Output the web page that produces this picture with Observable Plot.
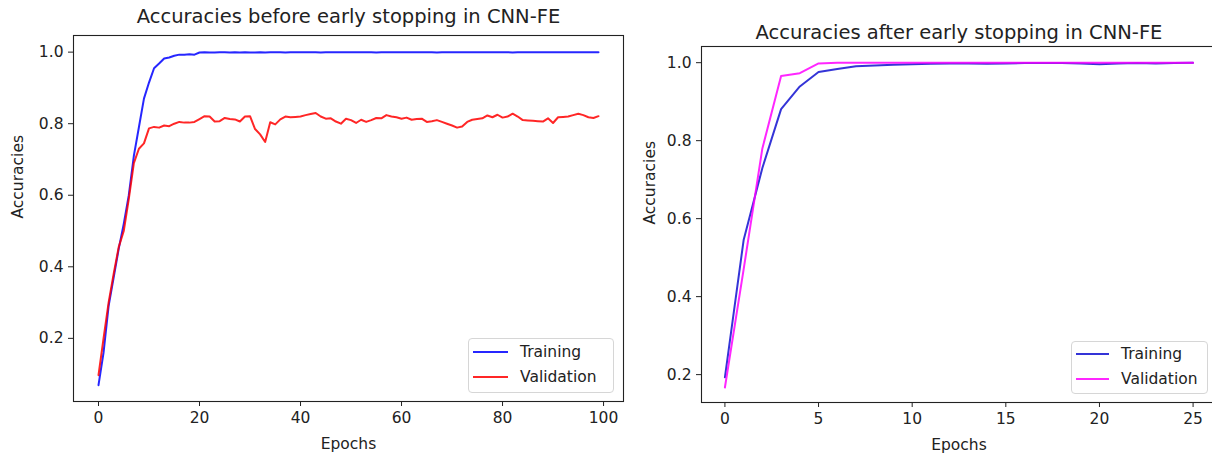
<!DOCTYPE html>
<html>
<head>
<meta charset="utf-8">
<script src="https://cdn.jsdelivr.net/npm/d3@7"></script>
<script src="https://cdn.jsdelivr.net/npm/@observablehq/plot@0.6"></script>
<style>
  html, body { margin: 0; padding: 0; background: #fff; }
  body { width: 1212px; height: 454px; overflow: hidden; position: relative; font-family: "DejaVu Sans", sans-serif; color: #222; }
  .panel { position: absolute; top: 0; }
  .legend { position: absolute; background: rgba(255,255,255,0.8); border: 1px solid #d6d6d6; border-radius: 4px; box-sizing: border-box; font-size: 15.5px; color: #222; }
  .legend .row { position: absolute; left: 0; right: 0; height: 20px; }
  .legend .sw { position: absolute; height: 0; border-top: 2px solid; top: 9px; opacity: 0.85; }
  .legend .lb { position: absolute; top: 0; line-height: 20px; white-space: nowrap; }
</style>
</head>
<body>
<div id="left" class="panel" style="left:0px;width:640px"></div>
<div id="right" class="panel" style="left:620px;width:600px"></div>
<div id="legendLeft" class="legend" style="left:468px;top:338px;width:146px;height:55px"></div>
<div id="legendRight" class="legend" style="left:1071px;top:341px;width:137px;height:53px"></div>
<script>
// ---------- Data ----------
const seriesNames = ["Training", "Validation"];
const titleBefore = "Accuracies before early stopping in CNN-FE";
const titleAfter = "Accuracies after early stopping in CNN-FE";
const xLabel = "Epochs";
const yLabel = "Accuracies";
const yTicks = [0.2, 0.4, 0.6, 0.8, 1.0];
const xTicksBefore = [0, 20, 40, 60, 80, 100];
const xTicksAfter = [0, 5, 10, 15, 20, 25];

const trainBefore = [
  0.069, 0.16, 0.29, 0.37, 0.45, 0.52, 0.60, 0.71, 0.79, 0.87,
  0.915, 0.955, 0.968, 0.982, 0.985, 0.99, 0.993, 0.993, 0.994, 0.993,
  0.999, 1.0, 0.999, 0.999, 1.0, 1.0, 0.999, 1.0, 0.999, 1.0,
  0.999, 0.999, 1.0, 0.999, 1.0, 1.0, 1.0, 0.999, 1.0, 1.0,
  1.0, 1.0, 1.0, 1.0, 0.999, 1.0, 1.0, 1.0, 1.0, 1.0,
  1.0, 1.0, 1.0, 1.0, 1.0, 0.999, 1.0, 1.0, 1.0, 1.0,
  1.0, 1.0, 1.0, 1.0, 1.0, 1.0, 1.0, 0.999, 1.0, 1.0,
  1.0, 1.0, 1.0, 1.0, 1.0, 1.0, 1.0, 1.0, 1.0, 1.0,
  1.0, 1.0, 0.999, 1.0, 1.0, 1.0, 1.0, 1.0, 1.0, 1.0,
  1.0, 1.0, 1.0, 1.0, 1.0, 1.0, 1.0, 1.0, 1.0, 1.0
];
const valBefore = [
  0.097, 0.20, 0.30, 0.38, 0.455, 0.50, 0.59, 0.69, 0.73, 0.745,
  0.787, 0.791, 0.789, 0.795, 0.793, 0.80, 0.805, 0.803, 0.803, 0.805,
  0.813, 0.821, 0.82, 0.806, 0.807, 0.816, 0.813, 0.812, 0.806, 0.82,
  0.821, 0.785, 0.77, 0.749, 0.804, 0.798, 0.812, 0.82, 0.818, 0.819,
  0.82, 0.824, 0.827, 0.83, 0.82, 0.814, 0.815, 0.806, 0.80, 0.814,
  0.81, 0.802, 0.811, 0.805, 0.81, 0.816, 0.815, 0.824, 0.82, 0.818,
  0.814, 0.817, 0.811, 0.813, 0.814, 0.805, 0.807, 0.81, 0.805, 0.80,
  0.795, 0.789, 0.792, 0.805, 0.811, 0.813, 0.815, 0.823, 0.818, 0.825,
  0.817, 0.82, 0.828, 0.82, 0.81, 0.809, 0.808, 0.807, 0.806, 0.815,
  0.802, 0.818, 0.819, 0.82, 0.824, 0.828, 0.824, 0.818, 0.816, 0.821
];

const trainAfter = [
  0.193, 0.545, 0.73, 0.881, 0.939, 0.976, 0.984, 0.991, 0.993, 0.995,
  0.996, 0.997, 0.998, 0.998, 0.997, 0.998, 0.999, 0.999, 0.999, 0.998,
  0.996, 0.998, 0.999, 0.998, 0.999, 1.0
];
const valAfter = [
  0.167, 0.47, 0.78, 0.966, 0.973, 0.998, 1.0, 1.0, 1.0, 1.0,
  1.0, 1.0, 1.0, 1.0, 1.0, 1.0, 1.0, 1.0, 1.0, 1.0,
  1.0, 1.0, 1.0, 1.0, 1.0, 1.0
];

const colorsBefore = ["#0000ff", "#ff0000"];
const colorsAfter = ["#1010d0", "#ff00ff"];

function rows(train, val) {
  return [
    ...train.map((v, i) => ({epoch: i, acc: v, series: seriesNames[0]})),
    ...val.map((v, i) => ({epoch: i, acc: v, series: seriesNames[1]}))
  ];
}

function panel({data, colors, title, xTicks, xDomain, yDomain, width, height, margins, titleDy, yLabelDx}) {
  return Plot.plot({
    width, height,
    marginLeft: margins[0], marginRight: margins[1], marginTop: margins[2], marginBottom: margins[3],
    style: {background: "transparent", overflow: "visible", maxWidth: "none", fontFamily: "DejaVu Sans", color: "#222"},
    x: {domain: xDomain},
    y: {domain: yDomain},
    color: {domain: seriesNames, range: colors},
    marks: [
      Plot.line(data, {x: "epoch", y: "acc", z: "series", stroke: "series", strokeWidth: 2, strokeOpacity: 0.85}),
      Plot.frame({stroke: "#222", strokeWidth: 1.1}),
      Plot.axisX({ticks: xTicks, tickSize: 5, tickPadding: 5, fontSize: 15.5, label: null, tickFormat: d3.format("d")}),
      Plot.axisY({ticks: yTicks, tickSize: 5, tickPadding: 5, fontSize: 15.5, label: null, tickFormat: d3.format(".1f")}),
      Plot.text([title], {frameAnchor: "top", dy: titleDy, lineAnchor: "bottom", fontSize: 19.5, fill: "#222"}),
      Plot.text([xLabel], {frameAnchor: "bottom", dy: 36, lineAnchor: "top", fontSize: 15.5, fill: "#222"}),
      Plot.text([yLabel], {frameAnchor: "left", dx: yLabelDx, rotate: -90, fontSize: 15.5, fill: "#222"})
    ]
  });
}

document.getElementById("left").append(panel({
  data: rows(trainBefore, valBefore), colors: colorsBefore, title: titleBefore,
  xTicks: xTicksBefore, xDomain: [-4.95, 103.95], yDomain: [0.0235, 1.0465],
  width: 640, height: 454, margins: [73, 17, 35, 53], titleDy: -13, yLabelDx: -55
}));
document.getElementById("right").append(panel({
  data: rows(trainAfter, valAfter), colors: colorsAfter, title: titleAfter,
  xTicks: xTicksAfter, xDomain: [-1.25, 26.25], yDomain: [0.1285, 1.0415],
  width: 600, height: 454, margins: [81, 4, 46, 52], titleDy: -8, yLabelDx: -51
}));

function legend(id, colors, lineLeft, lineW, textLeft, rowTops) {
  const el = document.getElementById(id);
  seriesNames.forEach((name, i) => {
    const r = document.createElement("div");
    r.className = "row";
    r.style.top = rowTops[i] + "px";
    r.innerHTML = `<div class="sw" style="left:${lineLeft}px;width:${lineW}px;border-color:${colors[i]}"></div><div class="lb" style="left:${textLeft}px">${name}</div>`;
    el.append(r);
  });
}
legend("legendLeft", colorsBefore, 4, 35, 51, [3, 28]);
legend("legendRight", colorsAfter, 4, 33, 49, [2, 27]);
</script>
</body>
</html>
